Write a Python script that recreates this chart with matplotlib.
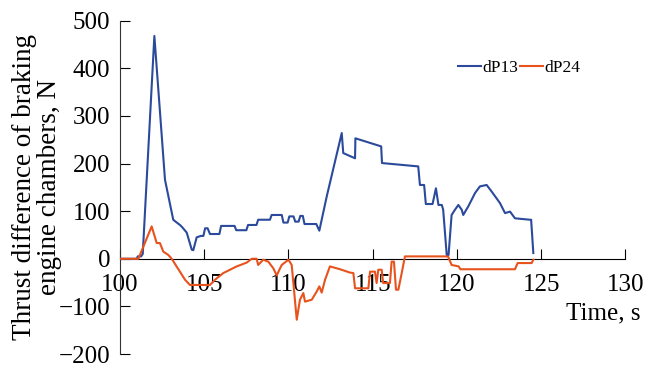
import matplotlib
matplotlib.use("Agg")
import matplotlib.pyplot as plt

plt.rcParams['font.family'] = ['Liberation Serif', 'DejaVu Serif']

# dP13 (blue), time in s, value in N
t13 = [100.0, 101.0, 101.05, 101.25, 101.35, 102.04, 102.67, 103.16, 103.3, 103.56,
       103.7, 103.96, 104.26, 104.35, 104.55, 104.8, 104.95, 105.05, 105.2, 105.34,
       105.9, 106.0, 106.8, 106.9, 107.5, 107.6, 108.1, 108.2, 108.9, 109.0,
       109.6, 109.7, 109.95, 110.05, 110.3, 110.4, 110.6, 110.7, 110.85, 110.95,
       111.65, 111.83, 112.27, 113.16, 113.25, 113.95, 113.97, 115.5, 115.55, 117.7,
       117.8, 118.05, 118.15, 118.55, 118.75, 118.9, 119.1, 119.18, 119.39, 119.5,
       119.68, 119.88, 120.08, 120.28, 120.37, 120.67, 121.07, 121.36, 121.76, 122.06,
       122.55, 122.85, 123.15, 123.44, 124.33, 124.4, 124.53]
dp13 = [0, 0, 5, 5, 10, 468, 166, 82, 78, 71,
        66, 55, 19, 18, 45, 48, 48, 64, 64, 52,
        52, 69, 69, 60, 60, 71, 71, 82, 82, 92,
        92, 76, 76, 89, 89, 78, 78, 90, 90, 73,
        73, 59, 131, 264, 222, 211, 253, 236, 201, 194,
        155, 155, 115, 115, 148, 113, 113, 103, 8, 8,
        92, 103, 113, 103, 92, 110, 138, 152, 155, 141,
        117, 96, 99, 85, 82, 82, 12]

# dP24 (orange)
t24 = [100.0, 101.09, 101.88, 102.18, 102.37, 102.57, 102.87, 103.07, 103.86, 104.15,
       105.34, 105.64, 106.13, 106.53, 106.93, 107.52, 107.82, 108.11, 108.2, 108.5,
       108.8, 109.1, 109.3, 109.5, 109.6, 110.0, 110.19, 110.49, 110.68, 110.88,
       110.98, 111.38, 111.67, 111.83, 111.97, 112.17, 112.46, 113.06, 113.65, 113.85,
       113.95, 114.74, 114.84, 115.13, 115.23, 115.33, 115.53, 115.62, 116.02, 116.12,
       116.26, 116.38, 116.52, 116.72, 116.91, 119.39, 119.48, 119.68, 120.1, 120.2,
       123.44, 123.6, 124.43, 124.53]
dp24 = [0, 0, 68, 33, 33, 15, 8, 0, -44, -55,
        -55, -44, -30, -23, -16, -8, 0, 0, -13, -2,
        -6, -20, -35, -20, -13, -2, -13, -128, -86, -72,
        -90, -86, -69, -58, -71, -44, -16, -22, -29, -30,
        -62, -62, -27, -27, -51, -23, -23, -51, -51, -6,
        -6, -65, -65, -30, 5, 5, 4, -13, -16, -22,
        -22, -9, -9, -2]

fig = plt.figure(figsize=(6.5, 3.67), dpi=100)
ax = fig.add_axes([0.1846, 0.0354, 0.7777, 0.9082])

ax.plot(t13, dp13, color="#2b4a9c", lw=1.5, label="dP13", zorder=3)
ax.plot(t24, dp24, color="#e8521c", lw=1.5, label="dP24", zorder=3)

ax.set_xlim(100, 130)
ax.set_ylim(-200, 500)
ax.set_xticks([100, 105, 110, 115, 120, 125, 130])
ax.set_yticks([-200, -100, 0, 100, 200, 300, 400, 500])

ax.spines['top'].set_visible(False)
ax.spines['right'].set_visible(False)
ax.spines['bottom'].set_position(('data', 0))
ax.spines['left'].set_color('#333333')
ax.tick_params(axis='both', direction='in', length=7, labelsize=18)
ax.tick_params(axis='x', pad=11)
ax.tick_params(axis='y', pad=7)

ax.set_ylabel("Thrust difference of braking\nengine chambers, N", fontsize=19.5,
              linespacing=1.0)
ax.yaxis.set_label_coords(-0.114, 0.5)
ax.set_xlabel("Time, s", fontsize=18, ha='right', va='center')
ax.xaxis.set_label_coords(1.03, 0.123)

ax.legend(loc='center left', bbox_to_anchor=(0.655, 0.858), frameon=False, ncol=2,
          fontsize=12.5, handlelength=1.3, handletextpad=0.1, columnspacing=0.1,
          borderaxespad=0)

fig.savefig("out.png", dpi=100)
